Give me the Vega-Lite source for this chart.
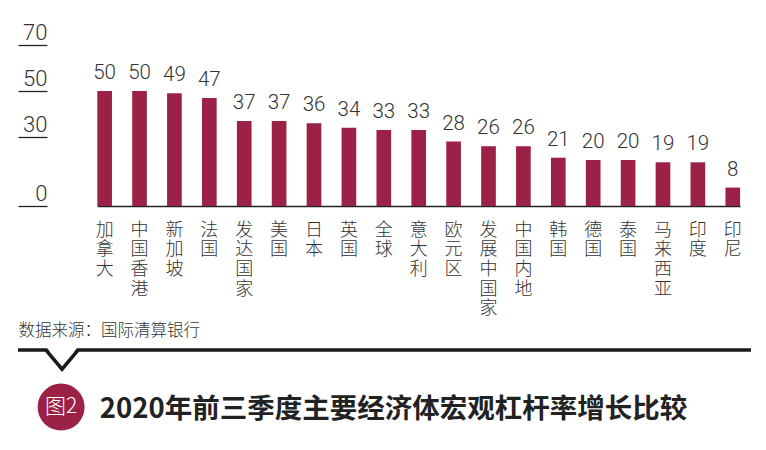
{
  "$schema": "https://vega.github.io/schema/vega-lite/v6.json",
  "width": 733,
  "height": 161,
  "autosize": {"type": "none"},
  "padding": {"left": 18, "top": 45, "right": 15, "bottom": 244},
  "background": "white",
  "config": {"view": {"stroke": null}},
  "data": {
    "values": [
      {"region": "加拿大", "value": 50},
      {"region": "中国香港", "value": 50},
      {"region": "新加坡", "value": 49},
      {"region": "法国", "value": 47},
      {"region": "发达国家", "value": 37},
      {"region": "美国", "value": 37},
      {"region": "日本", "value": 36},
      {"region": "英国", "value": 34},
      {"region": "全球", "value": 33},
      {"region": "意大利", "value": 33},
      {"region": "欧元区", "value": 28},
      {"region": "发展中国家", "value": 26},
      {"region": "中国内地", "value": 26},
      {"region": "韩国", "value": 21},
      {"region": "德国", "value": 20},
      {"region": "泰国", "value": 20},
      {"region": "马来西亚", "value": 19},
      {"region": "印度", "value": 19},
      {"region": "印尼", "value": 8}
    ]
  },
  "layer": [
    {
      "mark": {"type": "bar", "color": "#9c2146"},
      "encoding": {
        "x": {
          "field": "region",
          "type": "nominal",
          "sort": null,
          "scale": {"range": [79.3, 722.1], "paddingInner": 0.58, "paddingOuter": 0},
          "axis": {
            "title": "数据来源：国际清算银行",
            "titleX": 0,
            "titleY": 124,
            "titleAlign": "left",
            "titleAnchor": "start",
            "titleBaseline": "middle",
            "titleFont": "Noto Sans CJK SC",
            "titleFontSize": 16.5,
            "titleFontWeight": 300,
            "titleColor": "#333333",
            "labelAngle": 0,
            "labelExpr": "split(datum.label, '')",
            "labelFont": "Noto Sans CJK SC",
            "labelFontSize": 18,
            "labelFontWeight": 300,
            "labelLineHeight": 19.7,
            "labelBaseline": "top",
            "labelPadding": 15,
            "labelColor": "#333333",
            "labelOverlap": false,
            "ticks": false,
            "domainColor": "#222222",
            "domainWidth": 1.3
          }
        },
        "y": {
          "field": "value",
          "type": "quantitative",
          "scale": {"domain": [0, 70], "nice": false},
          "axis": {
            "values": [0, 30, 50, 70],
            "title": null,
            "domain": false,
            "grid": false,
            "tickSize": -29,
            "tickColor": "#222222",
            "tickWidth": 1.3,
            "labelAlign": "right",
            "labelBaseline": "alphabetic",
            "labelOffset": -6,
            "labelPadding": 0,
            "labelFlush": false,
            "labelOverlap": false,
            "labelFont": "Roboto",
            "labelFontWeight": 300,
            "labelFontSize": 22,
            "labelColor": "#333333"
          }
        }
      }
    },
    {
      "mark": {"type": "text", "baseline": "alphabetic", "dy": -12, "font": "Roboto", "fontWeight": 300, "fontSize": 20.5, "color": "#333333"},
      "encoding": {
        "x": {"field": "region", "type": "nominal", "sort": null},
        "y": {"field": "value", "type": "quantitative"},
        "text": {"field": "value", "type": "quantitative"}
      }
    },
    {
      "data": {"values": [{}]},
      "mark": {"type": "rule", "strokeWidth": 3.5, "color": "#1a1a1a"},
      "encoding": {"y": {"datum": -62.6}}
    },
    {
      "data": {"values": [{}]},
      "mark": {"type": "point", "shape": "M-0.95,-0.75L0.95,-0.75L0,0.5Z", "size": 1024, "filled": true, "color": "white", "opacity": 1},
      "encoding": {
        "x": {"datum": "加拿大", "type": "nominal", "bandPosition": -2.406},
        "y": {"datum": -66.8}
      }
    },
    {
      "data": {"values": [{}]},
      "mark": {"type": "point", "shape": "M-1,-0.6L0,0.6L1,-0.6", "size": 1024, "filled": false, "stroke": "#1a1a1a", "strokeWidth": 3.5, "strokeJoin": "miter", "opacity": 1},
      "encoding": {
        "x": {"datum": "加拿大", "type": "nominal", "bandPosition": -2.406},
        "y": {"datum": -66.8}
      }
    },
    {
      "data": {"values": [{}]},
      "mark": {"type": "point", "shape": "circle", "size": 2209, "filled": true, "color": "#9c2146", "opacity": 1},
      "encoding": {
        "x": {"datum": "加拿大", "type": "nominal", "bandPosition": -2.47},
        "y": {"datum": -87.4}
      }
    },
    {
      "data": {"values": [{}]},
      "mark": {"type": "text", "text": "图2", "color": "white", "font": "Noto Sans CJK SC", "fontWeight": 300, "fontSize": 21, "align": "center", "baseline": "middle"},
      "encoding": {
        "x": {"datum": "加拿大", "type": "nominal", "bandPosition": -2.47},
        "y": {"datum": -87.4}
      }
    },
    {
      "data": {"values": [{}]},
      "mark": {"type": "text", "text": "2020年前三季度主要经济体宏观杠杆率增长比较", "color": "#222222", "font": "Noto Sans CJK SC", "fontWeight": "bold", "fontSize": 27.5, "align": "left", "baseline": "middle"},
      "encoding": {
        "x": {"datum": "加拿大", "type": "nominal", "bandPosition": 0.175},
        "y": {"datum": -88.7}
      }
    }
  ]
}
